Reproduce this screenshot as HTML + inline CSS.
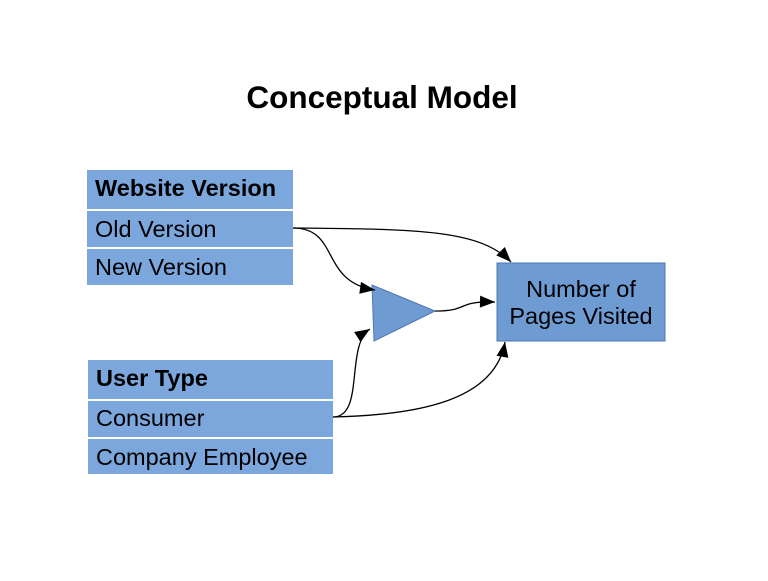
<!DOCTYPE html>
<html><head><style>
body{margin:0;width:768px;height:576px;background:#fff;overflow:hidden;font-family:"Liberation Sans",sans-serif;}
</style></head><body>
<svg width="768" height="576" xmlns="http://www.w3.org/2000/svg" font-family="Liberation Sans, sans-serif">
<defs><marker id="b" viewBox="0 0 10 8" markerWidth="16" markerHeight="12" refX="10" refY="4" orient="auto" markerUnits="userSpaceOnUse"><path d="M0,0L10,4L0,8z" fill="#000"/></marker></defs>
<text x="382" y="108" text-anchor="middle" font-size="31.5" font-weight="bold">Conceptual Model</text>
<g fill="#7ca7dc">
<rect x="87" y="170" width="206" height="39"/>
<rect x="87" y="211" width="206" height="36"/>
<rect x="87" y="249" width="206" height="36"/>
<rect x="88" y="360" width="245" height="39"/>
<rect x="88" y="401" width="245" height="36"/>
<rect x="88" y="439" width="245" height="35"/>
</g>
<g font-size="23.5" fill="#000">
<text x="95" y="196" font-weight="bold">Website Version</text>
<text x="95" y="237">Old Version</text>
<text x="95" y="275">New Version</text>
<text x="96" y="386" font-weight="bold">User Type</text>
<text x="96" y="426">Consumer</text>
<text x="96" y="465">Company Employee</text>
</g>
<polygon points="372,285 435,311 374,341" fill="#6f9bd3" stroke="#4b78b3" stroke-width="1"/>
<rect x="497" y="263" width="168" height="78" fill="#6f9bd3" stroke="#4b78b3" stroke-width="1"/>
<text x="581" y="297" text-anchor="middle" font-size="23.5">Number of</text>
<text x="581" y="324" text-anchor="middle" font-size="23.5">Pages Visited</text>
<g fill="none" stroke="#000" stroke-width="1.3" marker-end="url(#b)">
<path d="M293,228 C420,229 480,230 511,262"/>
<path d="M293,228 C340,228 320,282 375,290"/>
<path d="M435,311 C470,311 455,301 495,302"/>
<path d="M333,417 C365,417 345,345 370,329"/>
<path d="M333,417 C420,415 495,400 505,342"/>
</g>
</svg>
</body></html>
